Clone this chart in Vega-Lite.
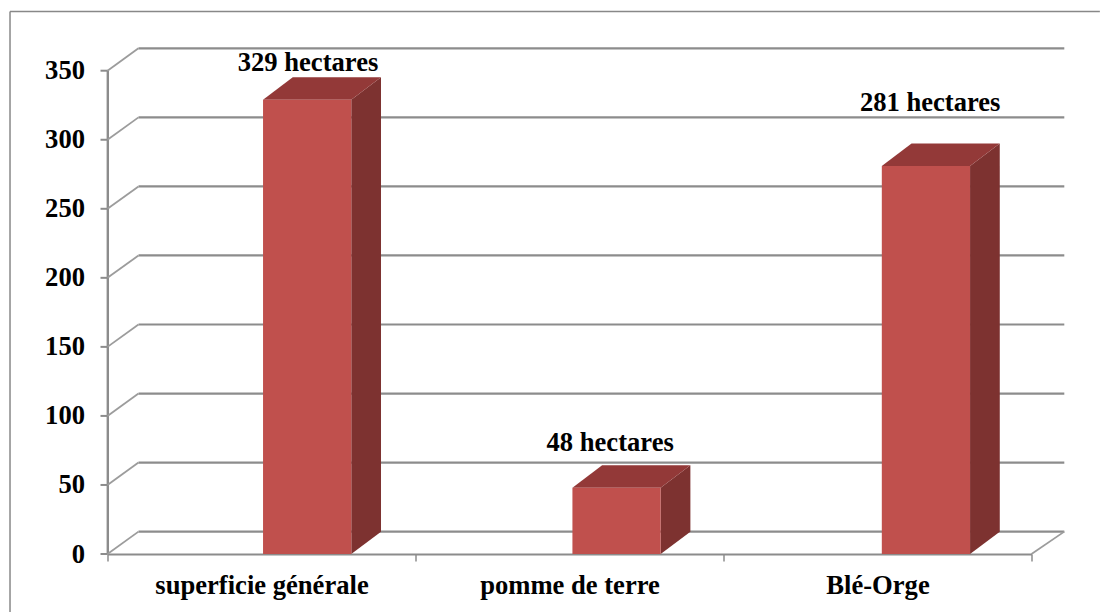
{
"$schema":"https://vega.github.io/schema/vega-lite/v6.json",
"autosize":{"type":"none"},
"padding":{"left":107.5,"top":0,"right":0,"bottom":58},
"width":992.5,"height":554,
"background":"white",
"config":{"view":{"stroke":null},"font":"Liberation Serif"},
"datasets":{
"bars":[{"category":"superficie générale","slot":0,"value":329},{"category":"pomme de terre","slot":1,"value":48},{"category":"Blé-Orge","slot":2,"value":281}],
"ticks":[{"tick":0},{"tick":50},{"tick":100},{"tick":150},{"tick":200},{"tick":250},{"tick":300},{"tick":350}]
},
"resolve":{"scale":{"x":"independent"},"axis":{"x":"independent"}},
"layer":[
{"data":{"name":"bars"},"mark":{"type":"rule","opacity":0},
 "encoding":{
  "x":{"field":"category","type":"nominal","sort":null,"scale":{"type":"band","domain":["superficie générale","pomme de terre","Blé-Orge"],"range":[0,924]},
   "axis":{"title":null,"orient":"bottom","tickBand":"extent","labelAngle":0,"domainColor":"#8c8c8c","domainWidth":2,"tickColor":"#8c8c8c","tickWidth":1.5,"tickSize":7,"labelFont":"Liberation Serif","labelFontWeight":"bold","labelFontSize":26.6,"labelColor":"black","labelPadding":11,"labelLimit":400,"grid":false,"labelOverlap":false}},
  "y":{"field":"value","type":"quantitative","scale":{"domain":[0,350],"range":[554,70.7],"nice":false,"zero":false},
   "axis":{"title":null,"values":[0,50,100,150,200,250,300,350],"domain":false,"ticks":false,"labelFont":"Liberation Serif","labelFontWeight":"bold","labelFontSize":26.6,"labelColor":"black","labelPadding":23,"grid":false}}
 }},
{"mark":{"type":"rule","color":"#888888","strokeWidth":1.5},
 "data":{"values":[{"edge":"top"}]},
 "encoding":{"x":{"datum":-0.3165,"type":"quantitative","scale":{"domain":[0,3],"range":[0,924]},"axis":null},"x2":{"datum":3.222},"y":{"datum":392.9,"type":"quantitative"}}},
{"mark":{"type":"rule","color":"#888888","strokeWidth":1.5},
 "data":{"values":[{"edge":"left"}]},
 "encoding":{"x":{"datum":-0.3165,"type":"quantitative","scale":{"domain":[0,3],"range":[0,924]},"axis":null},"y":{"datum":392.9,"type":"quantitative"},"y2":{"datum":-42}}},
{"mark":{"type":"rule","color":"#8c8c8c","strokeWidth":2.4},
 "data":{"values":[{"edge":"axis"}]},
 "encoding":{"x":{"datum":0.001,"type":"quantitative","scale":{"domain":[0,3],"range":[0,924]},"axis":null},"x2":{"datum":0.001},"y":{"datum":0,"type":"quantitative"},"y2":{"datum":350}}},
{"data":{"name":"ticks"},
 "mark":{"type":"rule","color":"#8c8c8c","strokeWidth":2},
 "encoding":{"x":{"datum":-0.0227,"type":"quantitative","scale":{"domain":[0,3],"range":[0,924]},"axis":null},"x2":{"datum":0.001},"y":{"field":"tick","type":"quantitative"}}},
{"data":{"name":"ticks"},"transform":[{"calculate":"datum.tick+16.2","as":"back"}],
 "mark":{"type":"rule","color":"#8c8c8c","strokeWidth":2.2},
 "encoding":{"x":{"datum":0.1006,"type":"quantitative","scale":{"domain":[0,3],"range":[0,924]},"axis":null},"x2":{"datum":3.1065},"y":{"field":"back","type":"quantitative"}}},
{"data":{"name":"ticks"},"transform":[{"calculate":"datum.tick+16.2","as":"back"}],
 "mark":{"type":"rule","color":"#9c9c9c","strokeWidth":1.8},
 "encoding":{"x":{"datum":0,"type":"quantitative","scale":{"domain":[0,3],"range":[0,924]},"axis":null},"x2":{"datum":0.1006},"y":{"field":"tick","type":"quantitative"},"y2":{"field":"back"}}},
{"data":{"values":[{"tick":0}]},"transform":[{"calculate":"datum.tick+16.2","as":"back"}],
 "mark":{"type":"rule","color":"#9c9c9c","strokeWidth":1.8},
 "encoding":{"x":{"datum":3,"type":"quantitative","scale":{"domain":[0,3],"range":[0,924]},"axis":null},"x2":{"datum":3.1065},"y":{"field":"tick","type":"quantitative"},"y2":{"field":"back"}}},
{"data":{"name":"bars"},
 "transform":[{"calculate":"0.505+datum.slot*1.0045+0.2865","as":"xr"},{"calculate":"[0,1]","as":"d"},{"flatten":["d"]},{"calculate":"datum.xr+datum.d*0.0965","as":"sx"},{"calculate":"datum.d*16.2","as":"low"},{"calculate":"datum.value+datum.d*16.2","as":"high"}],
 "mark":{"type":"area","color":"#7D3230","orient":"vertical"},
 "encoding":{"x":{"field":"sx","type":"quantitative","scale":{"domain":[0,3],"range":[0,924]},"axis":null},"y":{"field":"low","type":"quantitative","stack":null},"y2":{"field":"high"},"detail":{"field":"slot"}}},
{"data":{"name":"bars"},
 "transform":[{"calculate":"0.505+datum.slot*1.0045","as":"xl"},{"calculate":"[0,1]","as":"d"},{"flatten":["d"]},{"calculate":"datum.xl+datum.d*0.0965","as":"tl"},{"calculate":"datum.xl+0.2865+datum.d*0.0965","as":"tr"},{"calculate":"datum.value+datum.d*16.2","as":"ty"}],
 "mark":{"type":"area","color":"#933938","orient":"horizontal"},
 "encoding":{"x":{"field":"tl","type":"quantitative","scale":{"domain":[0,3],"range":[0,924]},"axis":null,"stack":null},"x2":{"field":"tr"},"y":{"field":"ty","type":"quantitative"},"detail":{"field":"slot"}}},
{"data":{"name":"bars"},
 "transform":[{"calculate":"0.505+datum.slot*1.0045","as":"xl"},{"calculate":"datum.xl+0.2865","as":"xr"}],
 "mark":{"type":"rect","color":"#C0504D"},
 "encoding":{"x":{"field":"xl","type":"quantitative","scale":{"domain":[0,3],"range":[0,924]},"axis":null},"x2":{"field":"xr"},"y":{"field":"value","type":"quantitative"},"y2":{"datum":0}}},
{"data":{"name":"bars"},
 "transform":[{"calculate":"datum.value+' hectares'","as":"label"},{"calculate":"[0.651,1.632,2.671][datum.slot]","as":"lx"},{"calculate":"[350,74.4,320.8][datum.slot]","as":"ly"}],
 "mark":{"type":"text","font":"Liberation Serif","fontWeight":"bold","fontSize":26.6,"color":"black","align":"center","baseline":"alphabetic"},
 "encoding":{"x":{"field":"lx","type":"quantitative","scale":{"domain":[0,3],"range":[0,924]},"axis":null},"y":{"field":"ly","type":"quantitative"},"text":{"field":"label"}}}
]
}
